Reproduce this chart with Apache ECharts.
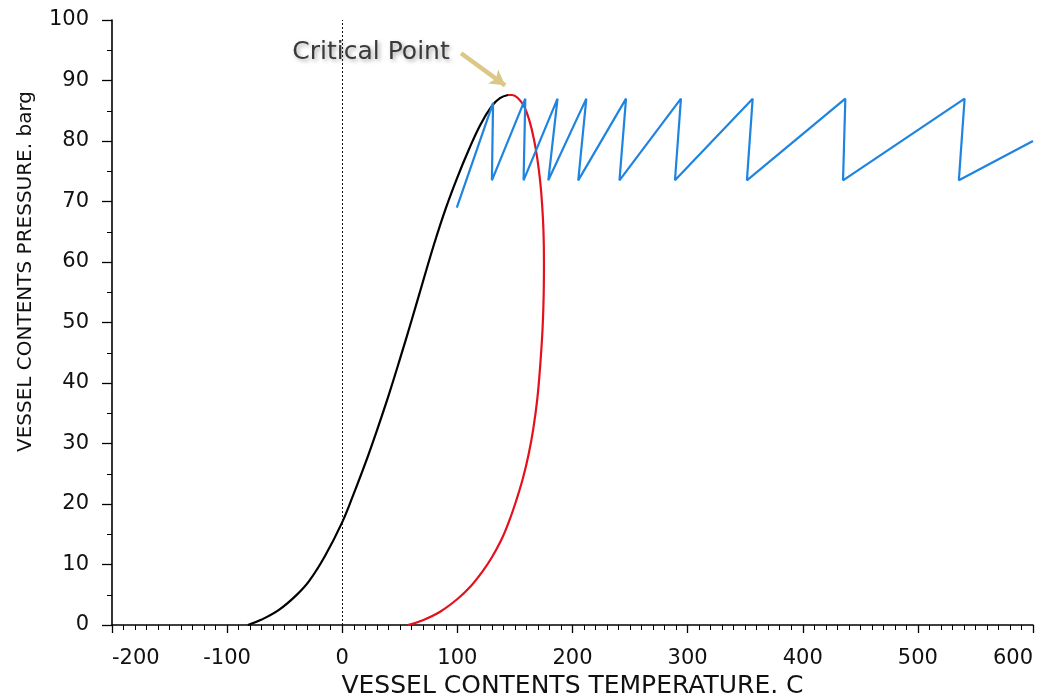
<!DOCTYPE html>
<html>
<head>
<meta charset="utf-8">
<script src="https://cdn.jsdelivr.net/npm/echarts@6/dist/echarts.min.js"></script>
<style>html,body{margin:0;padding:0;background:#fff}#c{width:1042px;height:700px}</style>
</head>
<body>
<div id="c"></div>
<script>
// Black curve (bubble line)
var blackTemp  = [-82, -70, -55, -40, -29, -15, 0, 10, 20, 30, 40, 50, 60, 70, 80, 90, 100, 110, 120, 130, 137, 144];
var blackPress = [0, 0.9, 2.5, 4.9, 7.2, 11.4, 17.0, 21.7, 26.7, 32.1, 37.8, 43.9, 50.2, 56.7, 63.1, 68.9, 74.0, 78.6, 82.7, 85.8, 87.1, 87.6];
// Red curve (dew line)
var redTemp  = [57, 70, 85, 100, 112, 122, 130, 138, 145, 151, 157, 162, 166, 169.5, 172, 174, 175, 175.2, 174.8, 173.6, 172, 169.5, 166.5, 162.5, 158, 152.5, 147.5, 144];
var redPress = [0, 0.8, 2.2, 4.3, 6.5, 8.9, 11.2, 14, 17.2, 20.5, 24.3, 28.3, 32.5, 37.5, 43, 49, 55, 60, 65, 69.5, 73.2, 77, 80.3, 83.4, 85.7, 87.1, 87.6, 87.6];
// Blue sawtooth (vessel contents path)
var blueTemp  = [99.5, 131, 130, 159, 157.5, 187, 179, 212, 205, 246.5, 240.8, 294.2, 289, 356.5, 351.5, 437, 435, 540.6, 535.6, 600];
var bluePress = [69, 86.3, 73.5, 87, 73.5, 87, 73.5, 87, 73.5, 87, 73.5, 87, 73.5, 87, 73.5, 87, 73.5, 87, 73.5, 80];
// Annotation
var criticalLabel = 'Critical Point';
var labelPos = [25, 94.7];
var arrowFrom = [103.2, 94.5];
var arrowTo = [141.5, 89.2];
// Axis settings
var xMin = -200, xMax = 600, xStep = 100;
var yMin = 0, yMax = 100, yStep = 10;
var xTitle = 'VESSEL CONTENTS TEMPERATURE. C';
var yTitle = 'VESSEL CONTENTS PRESSURE. barg';

function pairs(a, b) { return a.map(function (v, i) { return [v, b[i]]; }); }

var chart = echarts.init(document.getElementById('c'), null, { renderer: 'canvas' });
var font = 'DejaVu Sans';
chart.setOption({
  animation: false,
  backgroundColor: '#ffffff',
  grid: { left: 112, right: 9, top: 20, bottom: 75, containLabel: false, outerBoundsMode: 'none' },
  xAxis: {
    type: 'value', min: xMin, max: xMax, interval: xStep,
    name: xTitle,
    nameLocation: 'middle', nameGap: 45,
    nameTextStyle: { fontFamily: font, fontSize: 25, color: '#111' },
    axisLine: { show: true, onZero: false, lineStyle: { color: '#000', width: 1.6 } },
    axisTick: { show: true, length: 8, lineStyle: { color: '#000', width: 1.3 } },
    minorTick: { show: true, splitNumber: 10, length: 5, lineStyle: { color: '#000', width: 1 } },
    axisLabel: { margin: 23, fontFamily: font, fontSize: 21, color: '#111', alignMinLabel: 'left', alignMaxLabel: 'right' },
    splitLine: { show: false }
  },
  yAxis: {
    type: 'value', min: yMin, max: yMax, interval: yStep,
    name: yTitle,
    nameLocation: 'middle', nameGap: 76, nameRotate: 90,
    nameTextStyle: { fontFamily: font, fontSize: 20, color: '#111', padding: [0, 0, 0, 102] },
    axisLine: { show: true, onZero: false, lineStyle: { color: '#000', width: 1.6 } },
    axisTick: { show: true, length: 10, lineStyle: { color: '#000', width: 1.3 } },
    minorTick: { show: true, splitNumber: 2, length: 5, lineStyle: { color: '#000', width: 1 } },
    axisLabel: { margin: 23, fontFamily: font, fontSize: 21, color: '#111' },
    splitLine: { show: false }
  },
  series: [
    {
      type: 'line', name: 'bubble', data: pairs(blackTemp, blackPress),
      smooth: 0.4, showSymbol: false, lineStyle: { color: '#000', width: 2.2 }, z: 3,
      markLine: {
        silent: true, symbol: 'none', animation: false,
        label: { show: false },
        lineStyle: { color: '#111', width: 1, type: [2, 2] },
        data: [{ xAxis: 0 }]
      }
    },
    {
      type: 'line', name: 'dew', data: pairs(redTemp, redPress),
      smooth: 0.4, showSymbol: false, lineStyle: { color: '#e5101c', width: 2.2 }, z: 2
    },
    {
      type: 'line', name: 'vessel', data: pairs(blueTemp, bluePress),
      smooth: false, showSymbol: false, lineStyle: { color: '#1e84e0', width: 2.2 }, z: 4,
      markLine: {
        silent: true, symbol: ['none', 'arrow'], symbolSize: [13, 15], animation: false,
        label: { show: false },
        lineStyle: { color: '#dcc886', width: 4.5, type: 'solid' },
        data: [[{ coord: arrowFrom }, { coord: arrowTo }]]
      },
      markPoint: {
        silent: true, symbol: 'circle', symbolSize: 0, animation: false,
        label: {
          show: true, formatter: criticalLabel, fontFamily: font, fontSize: 25,
          color: '#3a3a3a', textShadowColor: 'rgba(0,0,0,0.35)', textShadowBlur: 4,
          textShadowOffsetX: 2, textShadowOffsetY: 2
        },
        data: [{ coord: labelPos }]
      }
    }
  ]
});
</script>
</body>
</html>
